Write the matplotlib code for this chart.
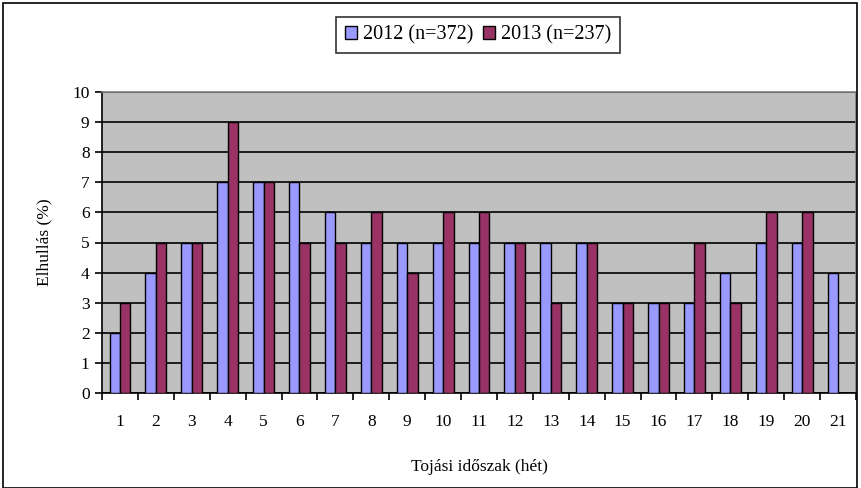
import numpy as np
import matplotlib.pyplot as plt
from matplotlib.patches import Rectangle

weeks = [str(i) for i in range(1, 22)]
y2012 = [2, 4, 5, 7, 7, 7, 6, 5, 5, 5, 5, 5, 5, 5, 3, 3, 3, 4, 5, 5, 4]
y2013 = [3, 5, 5, 9, 7, 5, 5, 6, 4, 6, 6, 5, 3, 5, 3, 3, 5, 3, 6, 6, 0]
labels = ['2012 (n=372)', '2013 (n=237)']

plt.rcParams['font.family'] = ['Liberation Serif', 'DejaVu Serif']

fig = plt.figure(figsize=(8.61, 4.88), dpi=100)
ax = fig.add_axes([102/861, 1-393/488, (856-102)/861, (393-92)/488])

x = np.arange(len(weeks))
w = 0.29
ax.bar(x - w/2, y2012, w, color='#9999FF', edgecolor='black', linewidth=1, label=labels[0], zorder=3)
ax.bar(x + w/2, y2013, w, color='#993366', edgecolor='black', linewidth=1, label=labels[1], zorder=3)

ax.set_facecolor('#C0C0C0')
ax.set_xlim(-0.5, len(weeks) - 0.5)
ax.set_ylim(0, 10)
ax.set_yticks(range(0, 11))
ax.yaxis.grid(True, color='black', linewidth=1.2, zorder=1)
ax.set_axisbelow(True)

ax.set_xticks(x)
ax.set_xticklabels(weeks)
ax.set_xticks(np.arange(-0.5, len(weeks)), minor=True)
ax.tick_params(axis='x', which='major', length=0, pad=15, labelsize=12.5)
ax.tick_params(axis='x', which='minor', length=5, width=1.2, direction='out')
ax.tick_params(axis='y', length=5, width=1.2, labelsize=12.5, pad=4)

for s in ['top', 'right']:
    ax.spines[s].set_color('#808080')
    ax.spines[s].set_linewidth(1.2)
for s in ['left', 'bottom']:
    ax.spines[s].set_color('black')
    ax.spines[s].set_linewidth(1.2)

ax.set_xlabel('Tojási időszak (hét)', fontsize=12.5, labelpad=21)
ax.set_ylabel('Elhullás (%)', fontsize=12.5, labelpad=14)

leg = ax.legend(loc='center', bbox_to_anchor=(478/861, 1-35/488), bbox_transform=fig.transFigure,
                ncol=2, frameon=True, fancybox=False, fontsize=14.5, handlelength=0.6,
                handleheight=0.6, handletextpad=0.3, columnspacing=0.5, borderpad=0.4)
leg.get_frame().set_edgecolor('black')
leg.get_frame().set_linewidth(1.2)

fig.patches.append(Rectangle((3/861, 0), 854/861, 1 - 3/488, transform=fig.transFigure,
                             fill=False, edgecolor='black', linewidth=1.2))

fig.savefig('out.png', dpi=100)
